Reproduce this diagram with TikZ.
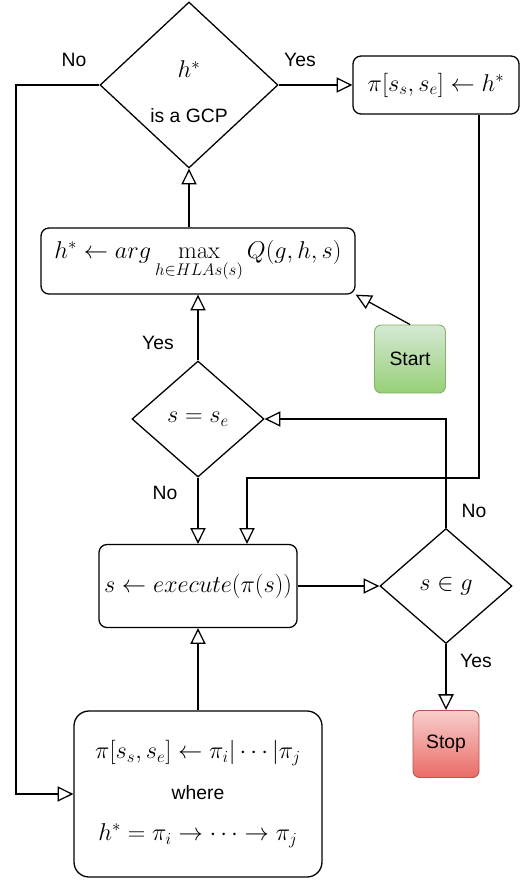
\documentclass[tikz,border=0pt]{standalone}
\usepackage{xcolor}
\usepackage{amsmath}
\usepackage{amsfonts}
\usepackage[no-math]{fontspec}
\setmainfont{Liberation Sans}
\usetikzlibrary{shapes.geometric,arrows.meta}

\definecolor{startTop}{HTML}{D5E8D4}
\definecolor{startBot}{HTML}{97D077}
\definecolor{startLine}{HTML}{82B366}
\definecolor{stopTop}{HTML}{F8CECC}
\definecolor{stopBot}{HTML}{EA6B66}
\definecolor{stopLine}{HTML}{B85450}
\newcommand{\plaintext}{\fontsize{16.5}{20}\selectfont}

\begin{document}
\begin{tikzpicture}[x=.03cm, y=-.03cm, line width=1.1pt,
    every node/.style={font=\plaintext},
    mathtext/.style={font=\fontsize{19.5}{23}\selectfont},
    decision/.style={draw, diamond, inner sep=0pt, align=center, mathtext},
    process/.style={draw, rectangle, rounded corners=.24cm, inner sep=0pt, align=center, mathtext},
    terminal/.style={draw, rectangle, rounded corners=.2cm, inner sep=0pt, line width=.8pt},
    flow/.style={-{Triangle[open, length=13.5pt, width=13pt]}},
    answer/.style={draw=none}]
             \useasboundingbox (0, 0) rectangle (527, 882);

             \node[decision, minimum width=5.34cm, minimum height=4.98cm] (gcp) at (189, 85) {\rule{0pt}{26pt}$h^*$\\[15pt]{\plaintext is a GCP}};
             \node[process, minimum width=4.98cm, minimum height=1.74cm] (assign) at (436, 85) {$\pi[s_s, s_e] \leftarrow h^*$};
             \node[process, minimum width=9.42cm, minimum height=1.98cm] (choose) at (198, 261) {$h^* \leftarrow arg \max\limits_{h \in HLAs(s)} Q(g, h, s)$};
             \node[terminal, top color=startTop, bottom color=startBot, draw=startLine, minimum width=2.13cm, minimum height=2.04cm] (start) at (410, 359) {Start};
             \node[decision, minimum width=3.96cm, minimum height=3.48cm] (atend) at (198, 419) {$s = s_e$};
             \node[process, minimum width=5.94cm, minimum height=2.49cm] (exec) at (198, 586) {$s \leftarrow execute(\pi(s))$};
             \node[decision, minimum width=3.96cm, minimum height=3.45cm] (goal) at (446, 586) {$s \in g$};
             \node[terminal, top color=stopTop, bottom color=stopBot, draw=stopLine, minimum width=1.98cm, minimum height=2.01cm] (stop) at (446, 744) {Stop};
             \node[process, rounded corners=.45cm, minimum width=7.44cm, minimum height=4.98cm] (split) at (198, 794) {$\pi[s_s, s_e] \leftarrow \pi_i | \cdots | \pi_j$\\[12pt]{\plaintext where}\\[12pt]$h^* = \pi_i \rightarrow \cdots \rightarrow \pi_j$};

             \node[answer] (noGcp) at (74, 60) {No};
             \node[answer] (yesGcp) at (300, 60) {Yes};
             \node[answer] (yesEnd) at (158, 343) {Yes};
             \node[answer] (noEnd) at (165, 493) {No};
             \node[answer] (noGoal) at (474, 511) {No};
             \node[answer] (yesGoal) at (476, 661) {Yes};

             \coordinate (leftTop) at (16, 85);
             \coordinate (leftBot) at (16, 794);
             \coordinate (backRight) at (479, 478);
             \coordinate (backLeft) at (247, 478);

             \draw[flow] (gcp.east) -- (assign.west);
             \draw[flow] (gcp.west) -- (leftTop) -- (leftBot) -- (split.west);
             \draw[flow] (choose.north -| gcp.south) -- (gcp.south);
             \draw[flow] (start.north) -- (choose.south east);
             \draw[flow] (atend.north) -- (choose.south);
             \draw[flow] (atend.south) -- (exec.north);
             \draw[flow] (assign.south -| backRight) -- (backRight) -- (backLeft) -- (backLeft |- exec.north);
             \draw[flow] (exec.east) -- (goal.west);
             \draw[flow] (goal.north) |- (atend.east);
             \draw[flow] (goal.south) -- (stop.north);
             \draw[flow] (split.north) -- (exec.south);
             \end{tikzpicture}
\end{document}
